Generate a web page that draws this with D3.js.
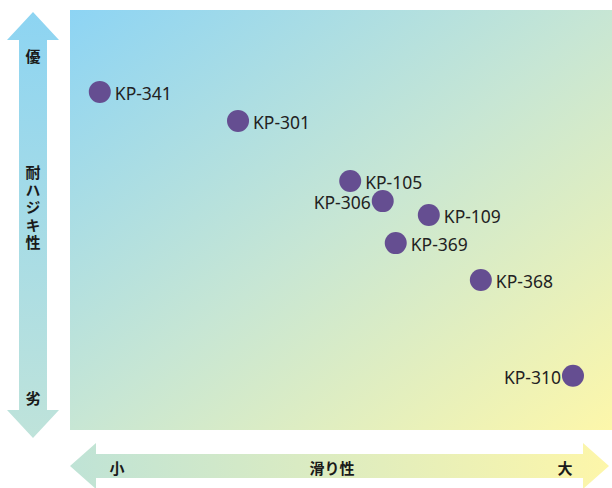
<!DOCTYPE html>
<html><head><meta charset="utf-8">
<script src="https://cdn.jsdelivr.net/npm/d3@7"></script>
<style>html,body{margin:0;padding:0;background:#fff;}svg{display:block;}</style>
</head><body>
<script>
const names = ["KP-341","KP-301","KP-105","KP-306","KP-109","KP-369","KP-368","KP-310"];
const slip = [5.5, 31.0, 51.7, 57.7, 66.2, 60.1, 75.8, 92.8];       // 滑り性
const repel = [80.5, 73.6, 59.3, 54.5, 51.2, 44.5, 35.7, 12.9];     // 耐ハジキ性
const labelSide = ["right","right","right","left","right","right","right","left"];
const yAxisTexts = ["優","耐ハジキ性","劣"];
const xAxisTexts = ["小","滑り性","大"];

const W = 612, H = 488;
const svg = d3.select("body").append("svg").attr("width", W).attr("height", H);
const defs = svg.append("defs");

const pg = defs.append("linearGradient").attr("id","plotg").attr("x1",0).attr("y1",0).attr("x2",1).attr("y2",1);
pg.append("stop").attr("offset","0%").attr("stop-color","#8dd4f4");
pg.append("stop").attr("offset","50%").attr("stop-color","#c7e6d4");
pg.append("stop").attr("offset","100%").attr("stop-color","#fdf7aa");

const yg = defs.append("linearGradient").attr("id","yg").attr("x1",0).attr("y1",0).attr("x2",0).attr("y2",1);
yg.append("stop").attr("offset","0%").attr("stop-color","#8dd4f2");
yg.append("stop").attr("offset","100%").attr("stop-color","#bfe3da");

const xg = defs.append("linearGradient").attr("id","xg").attr("x1",0).attr("y1",0).attr("x2",1).attr("y2",0);
xg.append("stop").attr("offset","0%").attr("stop-color","#bfe3d6");
xg.append("stop").attr("offset","100%").attr("stop-color","#fdf6a9");

const plot = {x0:70, x1:612, y0:10, y1:430};
svg.append("rect").attr("x",plot.x0).attr("y",plot.y0).attr("width",plot.x1-plot.x0).attr("height",plot.y1-plot.y0).attr("fill","url(#plotg)");

const x = d3.scaleLinear().domain([0,100]).range([plot.x0, plot.x1]);
const y = d3.scaleLinear().domain([0,100]).range([plot.y1, plot.y0]);

// vertical double arrow
const cx = 33, sh = 14, hw = 26;
const yt = 12, yb = 438, hh = 28;
svg.append("path").attr("fill","url(#yg)").attr("d",
  `M${cx},${yt} L${cx+hw},${yt+hh} L${cx+sh},${yt+hh} L${cx+sh},${yb-hh} L${cx+hw},${yb-hh} L${cx},${yb} L${cx-hw},${yb-hh} L${cx-sh},${yb-hh} L${cx-sh},${yt+hh} L${cx-hw},${yt+hh} Z`);

// horizontal double arrow
const cy = 466, xl = 70, xr = 609;
const hsh = 12, hhw = 23, hlen = 26;
svg.append("path").attr("fill","url(#xg)").attr("d",
  `M${xl},${cy} L${xl+hlen},${cy-hhw} L${xl+hlen},${cy-hsh} L${xr-hlen},${cy-hsh} L${xr-hlen},${cy-hhw} L${xr},${cy} L${xr-hlen},${cy+hhw} L${xr-hlen},${cy+hsh} L${xl+hlen},${cy+hsh} L${xl+hlen},${cy+hhw} Z`);

const cjk = "'Noto Sans CJK JP', sans-serif";
// y axis texts
svg.append("text").attr("x",cx).attr("y",55).attr("text-anchor","middle").attr("dominant-baseline","central")
  .attr("font-family",cjk).attr("font-weight","bold").attr("font-size",15).attr("fill","#1a1a1a").text(yAxisTexts[0]);
svg.append("text").attr("x",cx).attr("y",165)
  .style("writing-mode","vertical-rl").style("text-orientation","upright")
  .attr("letter-spacing",2.5)
  .attr("font-family",cjk).attr("font-weight","bold").attr("font-size",15).attr("fill","#1a1a1a").text(yAxisTexts[1]);
svg.append("text").attr("x",cx).attr("y",397).attr("text-anchor","middle").attr("dominant-baseline","central")
  .attr("font-family",cjk).attr("font-weight","bold").attr("font-size",15).attr("fill","#1a1a1a").text(yAxisTexts[2]);

// x axis texts
[[117,0],[332,1],[565,2]].forEach(([px,i])=>{
  svg.append("text").attr("x",px).attr("y",cy+1).attr("text-anchor","middle").attr("dominant-baseline","central")
    .attr("font-family",cjk).attr("font-weight","bold").attr("font-size",15).attr("fill","#1a1a1a").text(xAxisTexts[i]);
});

// points
const data = names.map((n,i)=>({name:n, sx:slip[i], ry:repel[i], side:labelSide[i]}));
const g = svg.append("g");
g.selectAll("circle").data(data).join("circle")
  .attr("cx",d=>x(d.sx)).attr("cy",d=>y(d.ry)).attr("r",11).attr("fill","#654e91");
g.selectAll("text").data(data).join("text")
  .attr("x",d=>d.side==="right" ? x(d.sx)+15 : x(d.sx)-12)
  .attr("y",d=>y(d.ry)+1)
  .attr("text-anchor",d=>d.side==="right"?"start":"end")
  .attr("dominant-baseline","central")
  .attr("font-family","'Noto Sans', 'Open Sans', sans-serif").attr("font-size",17.5).attr("fill","#222")
  .text(d=>d.name);
</script>
</body></html>
